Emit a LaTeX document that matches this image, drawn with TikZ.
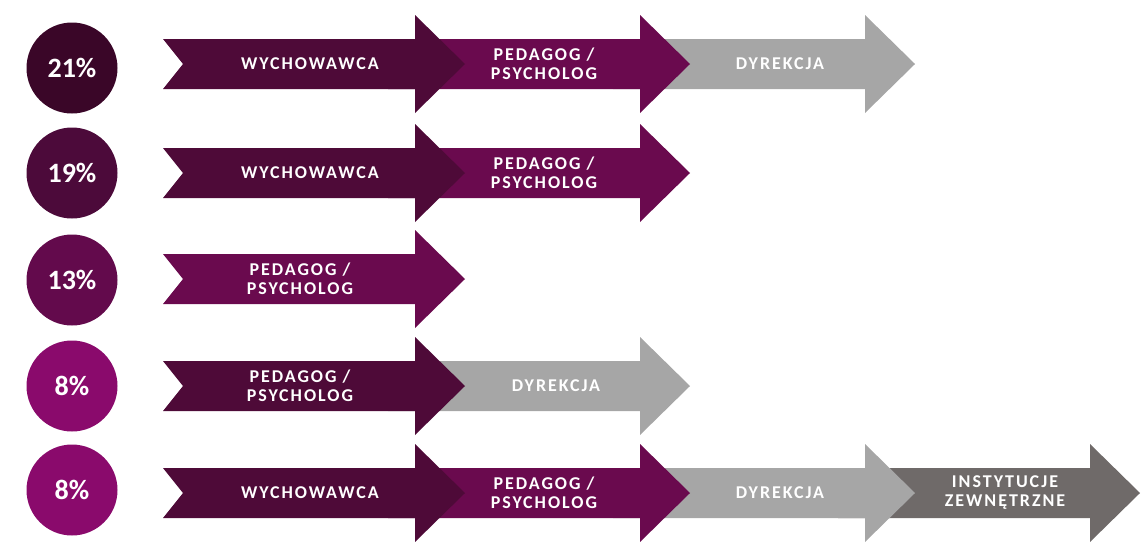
\documentclass[tikz,border=0pt]{standalone}
\usepackage{fontspec}
\usepackage{xcolor}
\setmainfont{Carlito}
\newfontfamily\lblfont[LetterSpace=11]{Carlito}

\definecolor{c21}{HTML}{3A0628}
\definecolor{c19}{HTML}{4C0A3A}
\definecolor{c13}{HTML}{630A4C}
\definecolor{c8}{HTML}{8A0A6C}
\definecolor{wych}{HTML}{4E0A38}
\definecolor{ped}{HTML}{6A0A4E}
\definecolor{dyr}{HTML}{A6A6A6}
\definecolor{inst}{HTML}{6F6A69}

% one step arrow: #1 tail x, #2 centre y, #3 colour
\newcommand{\stepArrow}[3]{%
  \fill[#3] (#1,#2-25) -- (#1+252,#2-25) -- (#1+252,#2-49) -- (#1+302,#2)
    -- (#1+252,#2+49) -- (#1+252,#2+25) -- (#1,#2+25) -- (#1+20,#2) -- cycle;}

\begin{document}
\begin{tikzpicture}[x=1pt,y=-1pt,
  pct/.style={circle,minimum size=91pt,inner sep=0pt,text=white,font=\bfseries\fontsize{28}{28}\selectfont},
  lbl/.style={text=white,align=center,inner sep=1pt,font=\lblfont\bfseries\fontsize{18}{19}\selectfont}]
\useasboundingbox (0,0) rectangle (1145,541);

% percentages
\node[pct,fill=c21] (p21) at (72,68) {21\%};
\node[pct,fill=c19] (p19) at (72,173) {19\%};
\node[pct,fill=c13] (p13) at (72,280) {13\%};
\node[pct,fill=c8] (p8a) at (72,386) {8\%};
\node[pct,fill=c8] (p8b) at (72,490) {8\%};

% row 1
\stepArrow{613}{64}{dyr}
\stepArrow{388}{64}{ped}
\stepArrow{163}{64}{wych}
\node[lbl] (w1) at (310,64) {WYCHOWAWCA};
\node[lbl] (pp1) at (544,64) {PEDAGOG /\\PSYCHOLOG};
\node[lbl] (d1) at (780,64) {DYREKCJA};

% row 2
\stepArrow{388}{173}{ped}
\stepArrow{163}{173}{wych}
\node[lbl] (w2) at (310,173) {WYCHOWAWCA};
\node[lbl] (pp2) at (544,173) {PEDAGOG /\\PSYCHOLOG};

% row 3
\stepArrow{163}{279}{ped}
\node[lbl] (pp3) at (300,279) {PEDAGOG /\\PSYCHOLOG};

% row 4
\stepArrow{388}{386}{dyr}
\stepArrow{163}{386}{wych}
\node[lbl] (pp4) at (300,386) {PEDAGOG /\\PSYCHOLOG};
\node[lbl] (d4) at (556,386) {DYREKCJA};

% row 5
\stepArrow{838}{493}{inst}
\stepArrow{613}{493}{dyr}
\stepArrow{388}{493}{ped}
\stepArrow{163}{493}{wych}
\node[lbl] (w5) at (310,493) {WYCHOWAWCA};
\node[lbl] (pp5) at (544,493) {PEDAGOG /\\PSYCHOLOG};
\node[lbl] (d5) at (780,493) {DYREKCJA};
\node[lbl] (i5) at (1005,493) {INSTYTUCJE\\ZEWNĘTRZNE};
\end{tikzpicture}
\end{document}
